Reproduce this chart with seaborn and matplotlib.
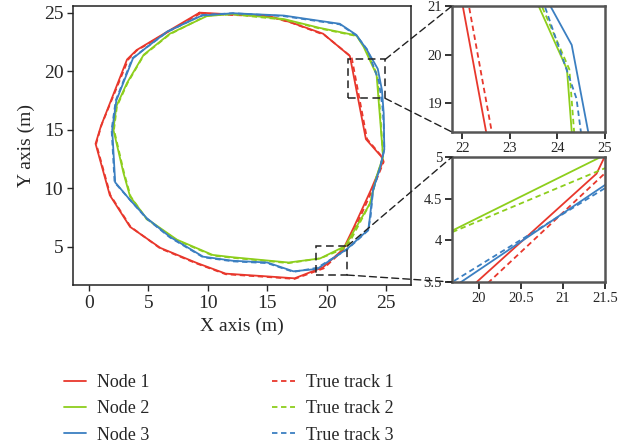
import matplotlib
matplotlib.use("Agg")
import matplotlib.pyplot as plt
from matplotlib.patches import Rectangle, ConnectionPatch
import seaborn as sns

# Trajektorien (m), geschlossene Schleifen
node1_x = [9.3, 12.0, 15.0, 16.9, 19.7, 21.95, 23.3, 24.6, 24.75, 23.7, 22.3, 21.4, 19.7, 17.3, 15.2, 11.5, 9.1, 6.0, 3.45, 1.75, 0.55, 1.0, 3.2, 4.0, 6.3, 9.3]
node1_y = [25.0, 24.85, 24.75, 24.2, 23.2, 21.3, 14.2, 12.7, 12.3, 9.8, 6.7, 4.8, 3.25, 2.3, 2.45, 2.7, 3.6, 4.9, 6.7, 9.4, 13.8, 15.3, 21.0, 21.8, 23.2, 25.0]
true1_x = [9.4, 12.0, 15.0, 17.0, 19.8, 22.1, 23.4, 24.65, 24.8, 23.8, 22.4, 21.6, 19.75, 17.3, 15.2, 11.5, 9.1, 6.0, 3.5, 1.8, 0.6, 1.05, 3.3, 4.0, 6.3, 9.4]
true1_y = [24.95, 24.8, 24.7, 24.15, 23.1, 21.2, 14.2, 12.7, 12.25, 9.75, 6.6, 4.9, 3.15, 2.25, 2.4, 2.65, 3.55, 4.85, 6.7, 9.4, 13.8, 15.4, 21.0, 21.75, 23.15, 24.95]

node2_x = [9.9, 12.1, 16.4, 19.4, 22.5, 23.1, 24.2, 24.45, 24.75, 24.2, 23.65, 21.55, 19.45, 16.8, 12.1, 10.4, 7.4, 4.85, 3.45, 2.9, 2.05, 2.3, 3.2, 4.6, 6.8, 9.9]
node2_y = [24.7, 24.9, 24.45, 23.7, 23.05, 22.1, 19.7, 16.5, 12.7, 11.0, 8.7, 5.05, 4.0, 3.65, 4.1, 4.3, 5.6, 7.4, 9.3, 11.3, 15.0, 17.0, 19.0, 21.4, 23.2, 24.7]
true2_x = [9.9, 12.1, 16.4, 19.4, 22.55, 23.2, 24.25, 24.5, 24.75, 24.2, 23.65, 21.7, 19.45, 16.8, 12.1, 10.4, 7.4, 4.85, 3.5, 2.95, 2.1, 2.35, 3.25, 4.6, 6.8, 9.9]
true2_y = [24.75, 24.85, 24.4, 23.65, 23.0, 22.05, 19.7, 16.5, 12.65, 10.95, 8.7, 4.95, 4.0, 3.6, 4.05, 4.25, 5.55, 7.35, 9.3, 11.3, 15.0, 17.0, 19.0, 21.35, 23.15, 24.75]

node3_x = [9.5, 12.1, 16.4, 19.4, 21.1, 22.5, 23.4, 24.3, 24.65, 24.8, 24.85, 24.5, 23.9, 23.65, 23.5, 21.7, 19.2, 17.2, 15.0, 12.1, 9.6, 6.8, 4.85, 3.45, 2.2, 1.95, 2.3, 3.7, 4.8, 6.6, 9.5]
node3_y = [24.75, 24.95, 24.75, 24.3, 24.05, 23.1, 21.8, 20.2, 18.4, 16.4, 13.3, 11.8, 9.85, 7.6, 6.45, 4.8, 3.1, 2.9, 3.65, 3.8, 4.15, 5.85, 7.45, 9.0, 10.5, 15.0, 17.5, 21.1, 22.0, 23.4, 24.75]
true3_x = [9.5, 12.1, 16.4, 19.4, 21.1, 22.5, 23.45, 24.4, 24.7, 24.8, 24.85, 24.5, 23.9, 23.7, 23.5, 21.7, 19.2, 17.2, 15.0, 12.1, 9.6, 6.8, 4.85, 3.45, 2.15, 1.9, 2.25, 3.65, 4.8, 6.6, 9.5]
true3_y = [24.8, 24.95, 24.7, 24.25, 24.0, 23.05, 21.8, 19.1, 16.9, 15.5, 13.3, 11.75, 9.8, 7.6, 6.4, 4.75, 3.2, 2.85, 3.6, 3.75, 4.1, 5.8, 7.4, 9.0, 10.5, 15.0, 17.5, 21.1, 22.0, 23.35, 24.8]

labels = ["Node 1", "Node 2", "Node 3", "True track 1", "True track 2", "True track 3"]
farben = ["#e8372c", "#8dce1c", "#3b7fc1"]

# Ausschnitte (Rahmen im Hauptbild) und Achsengrenzen der Zooms
box_oben = (21.83, 17.68, 24.92, 21.0)
box_unten = (19.1, 2.58, 21.74, 5.06)
lim_oben = ((21.78, 25.0), (18.41, 21.0))
lim_unten = ((19.68, 21.5), (3.5, 5.0))

sns.set_style("ticks")
plt.rcParams["font.family"] = ["Liberation Serif", "DejaVu Serif"]

fig = plt.figure(figsize=(6.26, 4.46), dpi=100)
ax = fig.add_axes([0.1166, 0.361, 0.54, 0.6256])
ax_oben = fig.add_axes([0.722, 0.704, 0.2444, 0.2825])
ax_unten = fig.add_axes([0.722, 0.3677, 0.2444, 0.2803])

serien = [
    (node1_x, node1_y, 0, "-", labels[0]),
    (true1_x, true1_y, 0, (0, (3, 2)), labels[3]),
    (node2_x, node2_y, 1, "-", labels[1]),
    (true2_x, true2_y, 1, (0, (3, 2)), labels[4]),
    (node3_x, node3_y, 2, "-", labels[2]),
    (true3_x, true3_y, 2, (0, (3, 2)), labels[5]),
]


def zeichne_spuren(a, lw):
    for xs, ys, c, ls, lab in serien:
        sns.lineplot(x=xs, y=ys, sort=False, estimator=None, color=farben[c],
                     lw=lw, ls=ls, label=lab, legend=False, ax=a)


zeichne_spuren(ax, 1.3)
zeichne_spuren(ax_oben, 1.3)
zeichne_spuren(ax_unten, 1.3)

# Hauptachse
ax.set_xlim(-1.35, 27.1)
ax.set_ylim(1.73, 25.57)
ax.set_xticks([0, 5, 10, 15, 20, 25])
ax.set_yticks([5, 10, 15, 20, 25])
ax.set_xlabel("X axis (m)", fontsize=14, labelpad=4)
ax.set_ylabel("Y axis (m)", fontsize=14, labelpad=6)
ax.tick_params(direction="out", length=4, width=1, labelsize=14, pad=3)
for s in ax.spines.values():
    s.set_color("#222222")
    s.set_linewidth(1.1)

# Zoom-Achsen
for a, (xl, yl) in [(ax_oben, lim_oben), (ax_unten, lim_unten)]:
    a.set_xlim(*xl)
    a.set_ylim(*yl)
    a.set_xlabel("")
    a.set_ylabel("")
    a.tick_params(direction="out", length=5, width=1.4, labelsize=10.5, pad=2, color="#333333")
    for s in a.spines.values():
        s.set_color("#555555")
        s.set_linewidth(1.8)

ax_oben.set_xticks([22, 23, 24, 25])
ax_oben.set_yticks([19, 20, 21])
ax_unten.set_xticks([20, 20.5, 21, 21.5])
ax_unten.set_xticklabels(["20", "20.5", "21", "21.5"])
ax_unten.set_yticks([3.5, 4, 4.5, 5])
ax_unten.set_yticklabels(["3.5", "4", "4.5", "5"])

# gestrichelte Rahmen und Verbindungslinien
for (x0, y0, x1, y1), ziel in [(box_oben, ax_oben), (box_unten, ax_unten)]:
    ax.add_patch(Rectangle((x0, y0), x1 - x0, y1 - y0, fill=False, ec="#222222",
                           lw=1.1, ls=(0, (5, 3)), zorder=5))
    for ya, yb in [(y1, 1), (y0, 0)]:
        con = ConnectionPatch(xyA=(x1, ya), coordsA=ax.transData, xyB=(0, yb),
                              coordsB=ziel.transAxes, color="#222222", lw=1.0,
                              ls=(0, (5, 3)))
        fig.add_artist(con)

handles, labs = ax.get_legend_handles_labels()
reihenfolge = [labs.index(l) for l in labels]
fig.legend([handles[i] for i in reihenfolge], [labs[i] for i in reihenfolge],
           loc="upper left", bbox_to_anchor=(0.1015, 0.161), ncol=2, frameon=False,
           fontsize=13, handlelength=1.25, handletextpad=0.6, columnspacing=6.8,
           labelspacing=0.51, borderpad=0, borderaxespad=0)

fig.savefig("out.png", dpi=100)
